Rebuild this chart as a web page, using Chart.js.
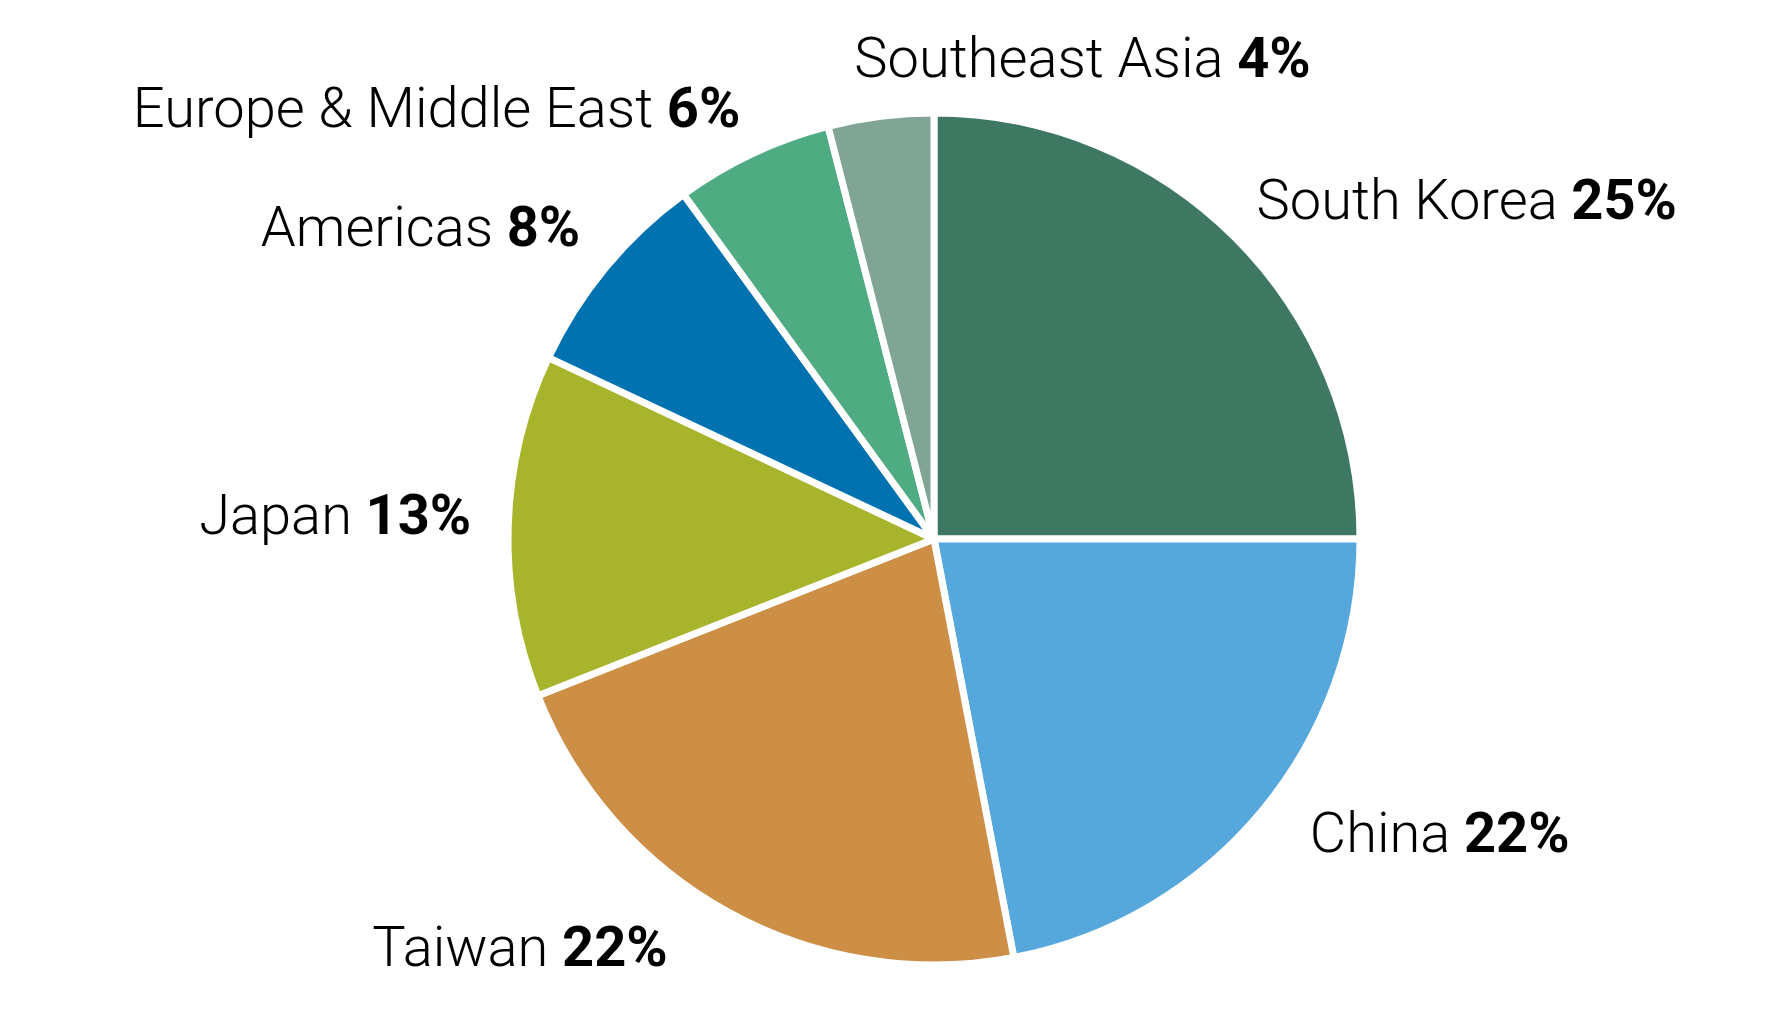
<!DOCTYPE html>
<html>
<head>
<meta charset="utf-8">
<script src="https://cdn.jsdelivr.net/npm/chart.js@4.4.0/dist/chart.umd.min.js"></script>
<style>
  html, body { margin: 0; padding: 0; background: #fff; }
  #wrap { width: 1792px; height: 1025px; }
</style>
</head>
<body>
<div id="wrap"><canvas id="myChart"></canvas></div>
<script>
// data, clockwise from 12 o'clock
const regions = ['South Korea', 'China', 'Taiwan', 'Japan', 'Americas', 'Europe & Middle East', 'Southeast Asia'];
const shares = [25, 22, 22, 13, 8, 6, 4];
const sliceColors = ['#3e7863', '#55a7dc', '#cd8e45', '#a7b42c', '#0072b0', '#4fab82', '#80a595'];

const FONT_SIZE = 56;
// small hand tweaks to label placement (px), same order as regions
const labelNudge = [[-14, 7], [9, 0], [-37, 0], [13, 0], [13, 0], [9, 9], [0, 0]];

// draws "Region NN%" outside each slice
const outsideLabels = {
  id: 'outsideLabels',
  afterDatasetsDraw(chart) {
    const ctx = chart.ctx;
    const meta = chart.getDatasetMeta(0);
    ctx.save();
    ctx.fillStyle = '#000';
    ctx.textBaseline = 'middle';
    meta.data.forEach((arc, i) => {
      const p = arc.getProps(['x', 'y', 'startAngle', 'endAngle', 'outerRadius'], true);
      const mid = (p.startAngle + p.endAngle) / 2;
      const dx = Math.cos(mid), dy = Math.sin(mid);
      const r = p.outerRadius + 50;
      const ax = p.x + dx * r + labelNudge[i][0];
      const ay = p.y + dy * r - 4 + labelNudge[i][1];

      const name = regions[i] + ' ';
      const pct = shares[i] + '%';
      ctx.font = '300 ' + FONT_SIZE + 'px Roboto';
      const w1 = ctx.measureText(name).width;
      ctx.font = 'bold ' + FONT_SIZE + 'px Roboto';
      const w2 = ctx.measureText(pct).width;
      const w = w1 + w2;

      let left;
      if (Math.abs(dx) < 0.2) {
        left = ax - 20;
      } else if (dx > 0) {
        left = ax;
      } else {
        left = ax - w;
      }
      ctx.textAlign = 'left';
      ctx.font = '300 ' + FONT_SIZE + 'px Roboto';
      ctx.fillText(name, left, ay);
      ctx.font = 'bold ' + FONT_SIZE + 'px Roboto';
      ctx.fillText(pct, left + w1, ay);
    });
    ctx.restore();
  }
};

const ctx = document.getElementById('myChart').getContext('2d');
const myChart = new Chart(ctx, {
  type: 'pie',
  data: {
    labels: regions,
    datasets: [{
      data: shares,
      backgroundColor: sliceColors,
      borderColor: '#ffffff',
      borderWidth: 7
    }]
  },
  options: {
    responsive: true,
    maintainAspectRatio: false,
    animation: false,
    radius: 426,
    layout: {
      padding: { left: 76, right: 0, top: 53, bottom: 0 }
    },
    plugins: {
      legend: { display: false },
      tooltip: { enabled: false }
    }
  },
  plugins: [outsideLabels]
});
</script>
</body>
</html>
